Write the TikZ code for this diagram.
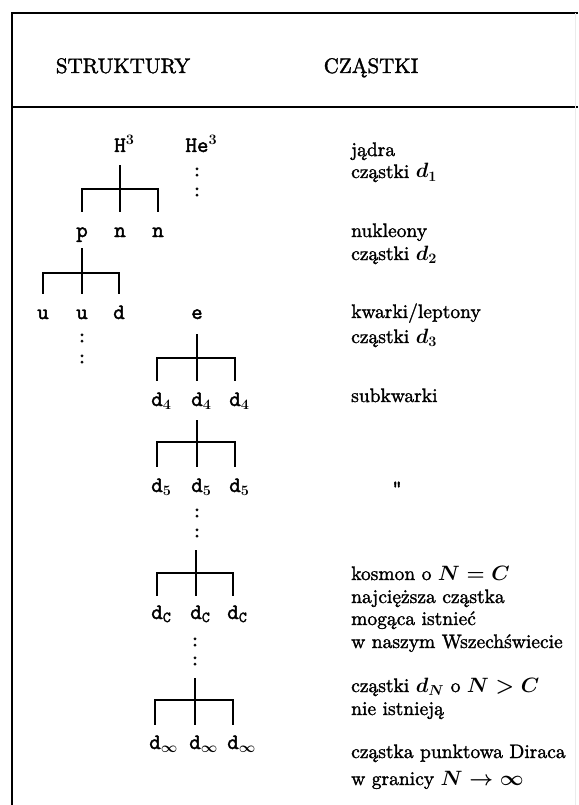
\documentclass[tikz,border=0pt]{standalone}
\usepackage{fontspec}
\setmainfont{lmroman10-regular.otf}[FakeBold=1.6]
\setmonofont{lmmono10-regular.otf}[FakeBold=1.8]
\begin{document}
\begin{tikzpicture}[x=1pt,y=-1pt,
  frame/.style={line width=1.6pt, black},
  tree/.style={line width=1.7pt, black},
  lbl/.style={font=\ttfamily\boldmath\fontsize{22}{22}\selectfont, inner sep=0pt, text height=11pt, text depth=3pt},
  dots/.style={font=\ttfamily\fontsize{20}{20}\selectfont, inner sep=0pt},
  hdr/.style={font=\fontsize{21}{24}\selectfont, inner sep=0pt, anchor=base},
  txt/.style={font=\boldmath\fontsize{19.5}{22}\selectfont, inner sep=0pt, anchor=base west}]
\useasboundingbox (0,0) rectangle (578,805);
% frame
\draw[frame] (12,805) -- (12,13) -- (578,13);
\draw[frame] (12,107) -- (578,107);
\draw[black!8, line width=0.6pt] (575,13) -- (575,805);
% headers
\node[hdr] (hs) at (123,73) {STRUKTURY};
\node[hdr] (hc) at (371,73) {CZĄSTKI};
% level 1
\node[lbl] (H) at (120,148) {H\rlap{$^{\scriptstyle 3}$}};
\node[lbl] (He) at (197,148) {He\rlap{$^{\scriptstyle 3}$}};
\node[dots] (heA) at (197,172) {:};
\node[dots] (heB) at (197,192) {:};
% level 2
\node[lbl] (p) at (82,233) {p};
\node[lbl] (n1) at (120,233) {n};
\node[lbl] (n2) at (158,233) {n};
\coordinate (bH) at (120,189);
\draw[tree] ([yshift=-10pt]H.south) -- (bH);
\draw[tree] ([yshift=14pt]p.north) |- (bH) -| ([yshift=14pt]n2.north);
\draw[tree] (bH) -- ([yshift=14pt]n1.north);
% level 3
\node[lbl] (u1) at (43,315) {u};
\node[lbl] (u2) at (82,315) {u};
\node[lbl] (d) at (119,315) {d};
\node[dots] (uA) at (82,338) {:};
\node[dots] (uB) at (82,359) {:};
\coordinate (bp) at (82,273);
\draw[tree] ([yshift=-8pt]p.south) -- (bp);
\draw[tree] ([yshift=14pt]u1.north) |- (bp) -| ([yshift=14pt]d.north);
\draw[tree] (bp) -- ([yshift=14pt]u2.north);
\node[lbl] (e) at (197,315) {e};
% level 4
\node[lbl] (da1) at (157,402) {d\rlap{$_{\scriptstyle 4}$}};
\node[lbl] (da2) at (197,402) {d\rlap{$_{\scriptstyle 4}$}};
\node[lbl] (da3) at (235,402) {d\rlap{$_{\scriptstyle 4}$}};
\coordinate (be) at (197,358);
\draw[tree] ([yshift=-12pt]e.south) -- (be);
\draw[tree] ([yshift=14pt]da1.north) |- (be) -| ([yshift=14pt]da3.north);
\draw[tree] (be) -- ([yshift=14pt]da2.north);
% level 5
\node[lbl] (db1) at (157,488) {d\rlap{$_{\scriptstyle 5}$}};
\node[lbl] (db2) at (197,488) {d\rlap{$_{\scriptstyle 5}$}};
\node[lbl] (db3) at (235,488) {d\rlap{$_{\scriptstyle 5}$}};
\coordinate (bd) at (197,442);
\draw[tree] ([yshift=-11pt]da2.south) -- (bd);
\draw[tree] ([yshift=14pt]db1.north) |- (bd) -| ([yshift=14pt]db3.north);
\draw[tree] (bd) -- ([yshift=14pt]db2.north);
\node[dots] (d5A) at (197,513) {:};
\node[dots] (d5B) at (197,533) {:};
% level C
\node[lbl] (dc1) at (157,615) {d\rlap{$_{\scriptstyle\mathtt{C}}$}};
\node[lbl] (dc2) at (196,615) {d\rlap{$_{\scriptstyle\mathtt{C}}$}};
\node[lbl] (dc3) at (233,615) {d\rlap{$_{\scriptstyle\mathtt{C}}$}};
\coordinate (s5) at (196,550);
\coordinate (b5) at (196,573);
\draw[tree] (s5) -- (b5);
\draw[tree] ([yshift=12pt]dc1.north) |- (b5) -| ([yshift=12pt]dc3.north);
\draw[tree] (b5) -- ([yshift=12pt]dc2.north);
\node[dots] (dcA) at (195,642) {:};
\node[dots] (dcB) at (195,661) {:};
% level infinity
\node[lbl] (di1) at (155,745) {d\rlap{$_{\scriptstyle\infty}$}};
\node[lbl] (di2) at (195,745) {d\rlap{$_{\scriptstyle\infty}$}};
\node[lbl] (di3) at (233,745) {d\rlap{$_{\scriptstyle\infty}$}};
\coordinate (sC) at (195,678);
\coordinate (bC) at (195,700);
\draw[tree] (sC) -- (bC);
\draw[tree] ([yshift=13pt]di1.north) |- (bC) -| ([yshift=13pt]di3.north);
\draw[tree] (bC) -- ([yshift=13pt]di2.north);
% right column
\node[txt] (t1) at (351,156) {jądra};
\node[txt] (t2) at (351,178) {cząstki $d_1$};
\node[txt] (t3) at (351,237) {nukleony};
\node[txt] (t4) at (351,260) {cząstki $d_2$};
\node[txt] (t5) at (351,318) {kwarki/leptony};
\node[txt] (t6) at (351,343) {cząstki $d_3$};
\node[txt] (t7) at (351,402) {subkwarki};
\node[txt, anchor=base, font=\ttfamily\fontsize{20}{20}\selectfont] (t8) at (397,494) {"};
\node[txt] (t9) at (351,580) {kosmon o $N=C$};
\node[txt] (t10) at (351,603) {najcięższa cząstka};
\node[txt] (t11) at (351,625) {mogąca istnieć};
\node[txt] (t12) at (351,648) {w naszym Wszechświecie};
\node[txt] (t13) at (351,692) {cząstki $d_N$ o $N>C$};
\node[txt] (t14) at (351,715) {nie istnieją};
\node[txt] (t15) at (351,758) {cząstka punktowa Diraca};
\node[txt] (t16) at (351,785) {w granicy $N\to\infty$};
\end{tikzpicture}
\end{document}
